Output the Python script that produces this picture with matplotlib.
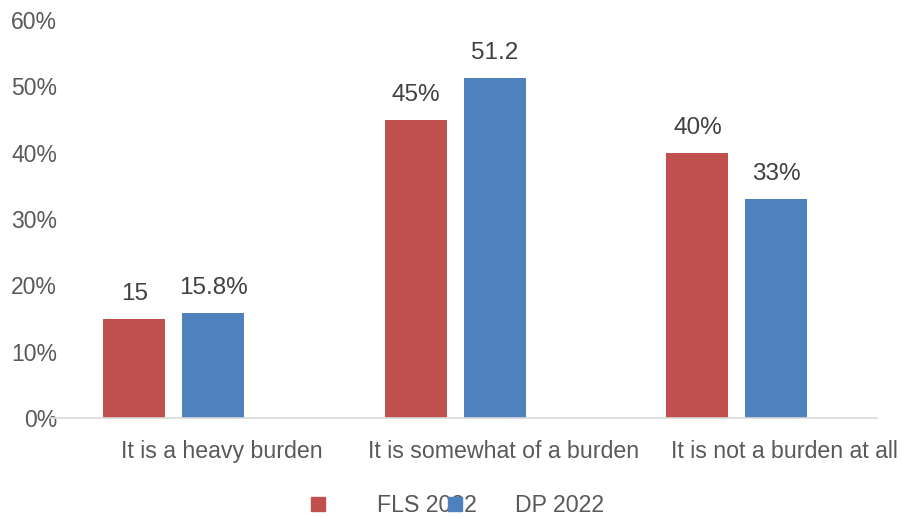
import matplotlib
matplotlib.use("Agg")
import matplotlib.pyplot as plt
from matplotlib.lines import Line2D
import numpy as np

plt.rcParams['font.family'] = ['Liberation Sans', 'DejaVu Sans']

categories = ["It is a heavy burden", "It is somewhat of a burden", "It is not a burden at all"]
series_names = ["FLS 2022", "DP 2022"]
fls_values = [15, 45, 40]
dp_values = [15.8, 51.2, 33]
fls_labels = ["15", "45%", "40%"]
dp_labels = ["15.8%", "51.2", "33%"]
y_ticks = [0, 10, 20, 30, 40, 50, 60]

RED = "#C0504D"
BLUE = "#4F81BD"
TXT = "#595959"

fig = plt.figure(figsize=(9.03, 5.18), dpi=100)
ax = fig.add_axes([50 / 903, 1 - 418 / 518, 827 / 903, 398 / 518])

x = np.arange(len(categories))
w = 0.22
off = 0.14
b1 = ax.bar(x - off, fls_values, w, color=RED)
b2 = ax.bar(x + off, dp_values, w, color=BLUE)

# value labels above each bar
for bars, labels in [(b1, fls_labels), (b2, dp_labels)]:
    for b, lab in zip(bars, labels):
        ax.annotate(lab, (b.get_x() + b.get_width() / 2, b.get_height()),
                    xytext=(0, 10), textcoords="offset points",
                    ha="center", va="bottom", fontsize=17.5, color="#404040")

ax.set_xlim(-0.44, 2.498)
ax.set_ylim(0, 60)
ax.set_yticks(y_ticks)
ax.set_yticklabels([f"{t}%" for t in y_ticks])
ax.set_xticks(x + 0.17)
ax.set_xticklabels(categories)
ax.tick_params(axis="y", length=0, pad=-5, labelsize=16.5, labelcolor=TXT)
ax.tick_params(axis="x", length=0, pad=16, labelsize=16.7, labelcolor=TXT)

for s in ["top", "right", "left"]:
    ax.spines[s].set_visible(False)
ax.spines["bottom"].set_color("#D9D9D9")
ax.spines["bottom"].set_linewidth(1.2)

handles = [Line2D([], [], marker="s", linestyle="none", markersize=9.4, color=c)
           for c in (RED, BLUE)]
leg = fig.legend(handles, series_names, loc="center", bbox_to_anchor=(457.5 / 903, 1 - 506 / 518),
                 ncol=2, frameon=False, fontsize=16.7, handlelength=0.56,
                 handletextpad=2.28, columnspacing=-1.2, labelcolor=TXT,
                 borderpad=0, borderaxespad=0)

fig.savefig("out.png", dpi=100)
